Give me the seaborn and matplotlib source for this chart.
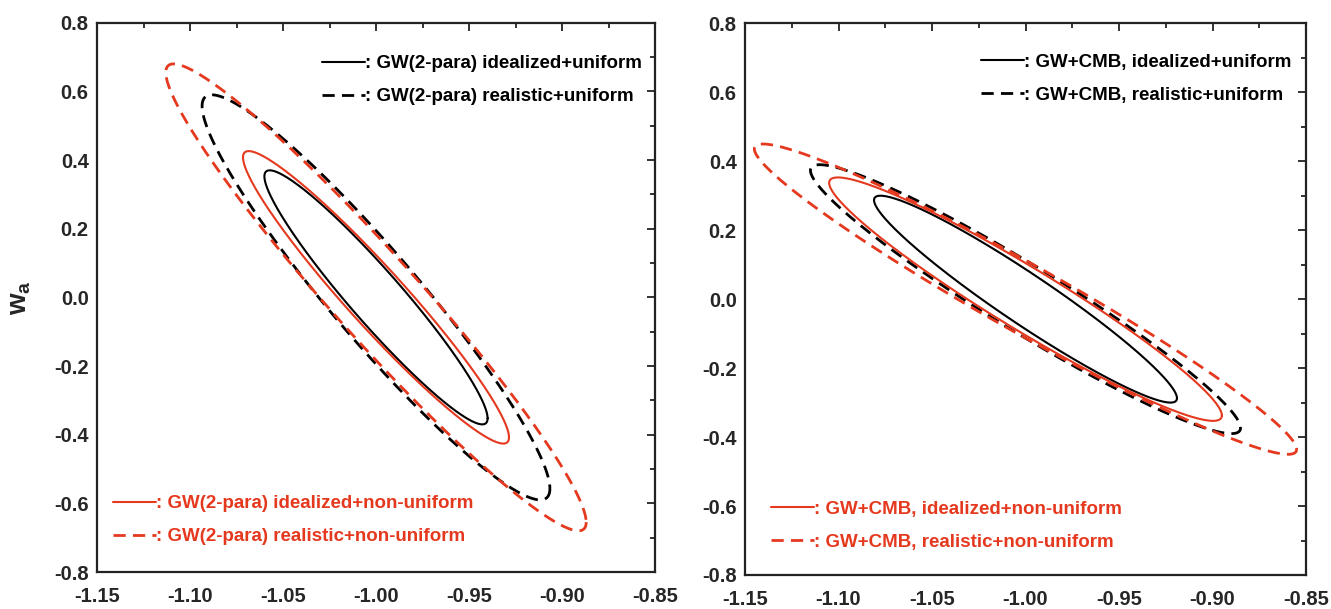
import numpy as np
import pandas as pd
import matplotlib
matplotlib.use("Agg")
import matplotlib.pyplot as plt
import seaborn as sns
from matplotlib.ticker import MultipleLocator, FormatStrFormatter

# ---------------- data ----------------
# each contour: centre (w0, wa), half-range in w0, half-range in wa, correlation
contour_kind = ["idealized+uniform", "realistic+uniform",
                "idealized+non-uniform", "realistic+non-uniform"]

left_labels = [": GW(2-para) idealized+uniform", ": GW(2-para) realistic+uniform",
               ": GW(2-para) idealized+non-uniform", ": GW(2-para) realistic+non-uniform"]
left_w0_center = [-1.000, -1.000, -1.000, -1.000]
left_wa_center = [0.000, 0.000, 0.000, 0.000]
left_w0_half = [0.0600, 0.0935, 0.0715, 0.1130]
left_wa_half = [0.370, 0.590, 0.426, 0.680]
left_corr = [-0.952, -0.944, -0.957, -0.963]

right_labels = [": GW+CMB, idealized+uniform", ": GW+CMB, realistic+uniform",
                ": GW+CMB, idealized+non-uniform", ": GW+CMB, realistic+non-uniform"]
right_w0_center = [-1.000, -1.000, -1.000, -1.000]
right_wa_center = [0.000, 0.000, 0.000, 0.000]
right_w0_half = [0.0810, 0.1150, 0.1050, 0.1450]
right_wa_half = [0.300, 0.390, 0.353, 0.450]
right_corr = [-0.957, -0.957, -0.955, -0.968]

x_ticks = [-1.15, -1.10, -1.05, -1.00, -0.95, -0.90, -0.85]
y_ticks = [-0.8, -0.6, -0.4, -0.2, 0.0, 0.2, 0.4, 0.6, 0.8]

# ---------------- style ----------------
sns.set_style("white")
FAM = ["Liberation Sans", "DejaVu Sans"]
plt.rcParams["font.family"] = FAM
plt.rcParams["font.weight"] = "bold"
plt.rcParams["mathtext.fontset"] = "custom"
plt.rcParams["mathtext.bf"] = "Liberation Sans:bold"
plt.rcParams["mathtext.rm"] = "Liberation Sans"

RED = "#e5391f"
colors = ["black", "black", RED, RED]
dashed = [False, True, False, True]
DASH = (0, (4.4, 2.6))
LEG_SIZE = 13.5


def ellipse_frame(cx, cy, hx, hy, rho, kind):
    t = np.linspace(0, 2 * np.pi, 600)
    x = cx + hx * np.cos(t)
    y = cy + hy * (rho * np.cos(t) - np.sqrt(1 - rho ** 2) * np.sin(t))
    return pd.DataFrame({"w0": x, "wa": y, "kind": kind})


fig = plt.figure(figsize=(13.31, 6.09), dpi=100)
ax_l = fig.add_axes([97 / 1331, 1 - 572 / 609, 558 / 1331, 549.3 / 609])
ax_r = fig.add_axes([745 / 1331, 1 - 575 / 609, 561 / 1331, 551.7 / 609])

panels = [
    (ax_l, left_labels, left_w0_center, left_wa_center, left_w0_half, left_wa_half, left_corr,
     (0.403, 0.895), (0.029, 0.094)),
    (ax_r, right_labels, right_w0_center, right_wa_center, right_w0_half, right_wa_half, right_corr,
     (0.421, 0.900), (0.046, 0.089)),
]

for ax, labels, cxs, cys, hxs, hys, rhos, top_anchor, bot_anchor in panels:
    handles = []
    for i in range(4):
        df = ellipse_frame(cxs[i], cys[i], hxs[i], hys[i], rhos[i], contour_kind[i])
        ls = DASH if dashed[i] else "-"
        lw = 2.0 if dashed[i] else 1.5
        sns.lineplot(data=df, x="w0", y="wa", sort=False, estimator=None,
                     color=colors[i], linewidth=lw, linestyle=ls, ax=ax)
        handles.append(ax.lines[-1])

    ax.set_xlim(-1.15, -0.85)
    ax.set_ylim(-0.8, 0.8)
    ax.set_xticks(x_ticks)
    ax.set_yticks(y_ticks)
    ax.xaxis.set_minor_locator(MultipleLocator(0.025))
    ax.yaxis.set_minor_locator(MultipleLocator(0.1))
    ax.xaxis.set_major_formatter(FormatStrFormatter("%.2f"))
    ax.yaxis.set_major_formatter(FormatStrFormatter("%.1f"))
    ax.tick_params(which="both", direction="in", top=True, right=True,
                   width=1.4, color="#333333")
    ax.tick_params(which="major", length=6, labelsize=14.5)
    ax.tick_params(axis="x", which="major", pad=11)
    ax.tick_params(axis="y", which="major", pad=6)
    ax.tick_params(which="minor", length=3.5)
    for lab in ax.get_xticklabels() + ax.get_yticklabels():
        lab.set_fontweight("bold")
    for sp in ax.spines.values():
        sp.set_linewidth(1.6)
        sp.set_color("#222222")
    ax.set_xlabel("")
    ax.set_ylabel("")

    leg1 = ax.legend(handles[:2], labels[:2], loc="center left", bbox_to_anchor=top_anchor,
                     frameon=False, handlelength=2.3, handletextpad=0.0, borderpad=0,
                     borderaxespad=0, labelspacing=0.85,
                     prop={"family": FAM, "weight": "bold", "size": LEG_SIZE}, labelcolor="black")
    ax.add_artist(leg1)
    ax.legend(handles[2:], labels[2:], loc="center left", bbox_to_anchor=bot_anchor,
              frameon=False, handlelength=2.3, handletextpad=0.0, borderpad=0,
              borderaxespad=0, labelspacing=0.85,
              prop={"family": FAM, "weight": "bold", "size": LEG_SIZE}, labelcolor=RED)

ax_l.set_ylabel(r"$\mathbf{w_a}$", fontsize=20, fontweight="bold")
ax_l.yaxis.set_label_coords(-0.115, 0.5)

fig.savefig("out.png", dpi=100)
